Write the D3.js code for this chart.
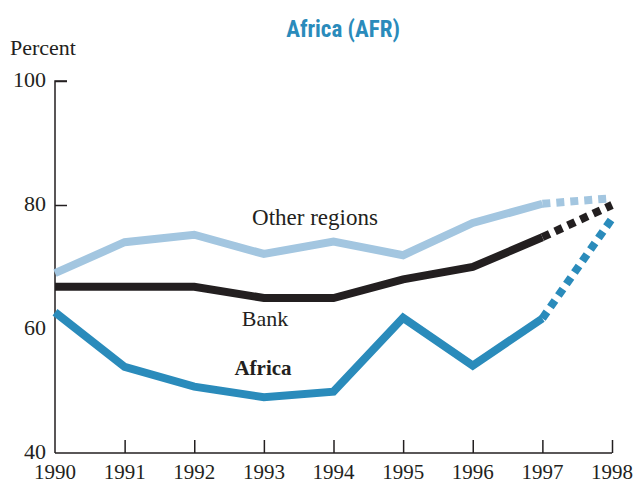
<!DOCTYPE html>
<html>
<head>
<meta charset="utf-8">
<script src="https://cdn.jsdelivr.net/npm/d3@7"></script>
<style>
  body { margin: 0; background: #fff; }
  .serif { font-family: "Liberation Serif", "DejaVu Serif", serif; fill: #231f20; }
</style>
</head>
<body>
<svg width="637" height="483"></svg>
<script>
// values (percent)
var years = [1990, 1991, 1992, 1993, 1994, 1995, 1996, 1997, 1998];
var otherRegions = [69, 74, 75.2, 72.1, 74.1, 71.9, 77.1, 80.2, 81.1];
var bank = [66.8, 66.8, 66.8, 65, 65, 68, 70, 74.8, 80];
var africa = [62.7, 53.9, 50.7, 49, 49.9, 61.8, 54.1, 61.7, 77.8];
var yTicks = [40, 60, 80, 100];

var svg = d3.select("svg");

var x = d3.scaleLinear().domain([1990, 1998]).range([55, 612]);
var y = d3.scaleLinear().domain([40, 100]).range([453, 81]);

// title
svg.append("text")
    .attr("x", 343)
    .attr("y", 37)
    .attr("text-anchor", "middle")
    .style("font-family", "'Liberation Sans Narrow', 'Roboto Condensed', 'Arial Narrow', sans-serif")
    .style("font-weight", "bold")
    .style("font-size", "23px")
    .style("fill", "#2a8bbb")
    .text("Africa (AFR)");

svg.append("text")
    .attr("class", "serif")
    .attr("x", 10)
    .attr("y", 55)
    .style("font-size", "22px")
    .text("Percent");

// axes
var yAxis = d3.axisRight(y).tickValues(yTicks).tickSize(12).tickFormat("");
var gy = svg.append("g").attr("transform", "translate(" + x(1990) + ",0)").call(yAxis);
gy.select(".domain").attr("d", "M12," + y(100) + "H0V" + y(40));
gy.selectAll(".tick").filter(function (d) { return d == 60 || d == 40; }).remove();

yTicks.forEach(function (t) {
    svg.append("text")
        .attr("class", "serif")
        .attr("x", 46)
        .attr("y", y(t) + 6)
        .attr("text-anchor", "end")
        .style("font-size", "22px")
        .text(t);
});

var xAxis = d3.axisTop(x).tickValues(years.slice(1)).tickSize(13).tickFormat("");
var gx = svg.append("g").attr("transform", "translate(0," + y(40) + ")").call(xAxis);
gx.select(".domain").attr("d", "M" + x(1990) + ",0H" + x(1998));

svg.selectAll("g.tick line, g .domain").attr("stroke", "#231f20").attr("stroke-width", 1.5);

svg.selectAll(".xlab")
    .data(years)
    .enter().append("text")
    .attr("class", "serif xlab")
    .attr("x", function (d) { return x(d); })
    .attr("y", 479)
    .attr("text-anchor", "middle")
    .style("font-size", "21px")
    .text(function (d) { return d; });

// lines: solid to 1997, dotted 1997-1998
var line = d3.line()
    .x(function (d) { return x(d[0]); })
    .y(function (d) { return y(d[1]); });

var series = [
    { vals: otherRegions, color: "#a3c6e0" },
    { vals: bank, color: "#231f20" },
    { vals: africa, color: "#2a8bbb" }
];

series.forEach(function (s) {
    var pts = years.map(function (yr, i) { return [yr, s.vals[i]]; });
    svg.append("path")
        .attr("d", line(pts.slice(0, 8)))
        .attr("fill", "none")
        .attr("stroke", s.color)
        .attr("stroke-width", 8)
        .attr("stroke-linejoin", "miter");
    svg.append("path")
        .attr("d", line(pts.slice(7)))
        .attr("fill", "none")
        .attr("stroke", s.color)
        .attr("stroke-width", 8)
        .attr("stroke-dasharray", "8,6");
});

// labels
svg.append("text").attr("class", "serif")
    .attr("x", 315).attr("y", 225).attr("text-anchor", "middle")
    .style("font-size", "23px").text("Other regions");
svg.append("text").attr("class", "serif")
    .attr("x", 265).attr("y", 326).attr("text-anchor", "middle")
    .style("font-size", "22px").text("Bank");
svg.append("text").attr("class", "serif")
    .attr("x", 263).attr("y", 375).attr("text-anchor", "middle")
    .style("font-size", "21px").style("font-weight", "bold").text("Africa");
</script>
</body>
</html>
